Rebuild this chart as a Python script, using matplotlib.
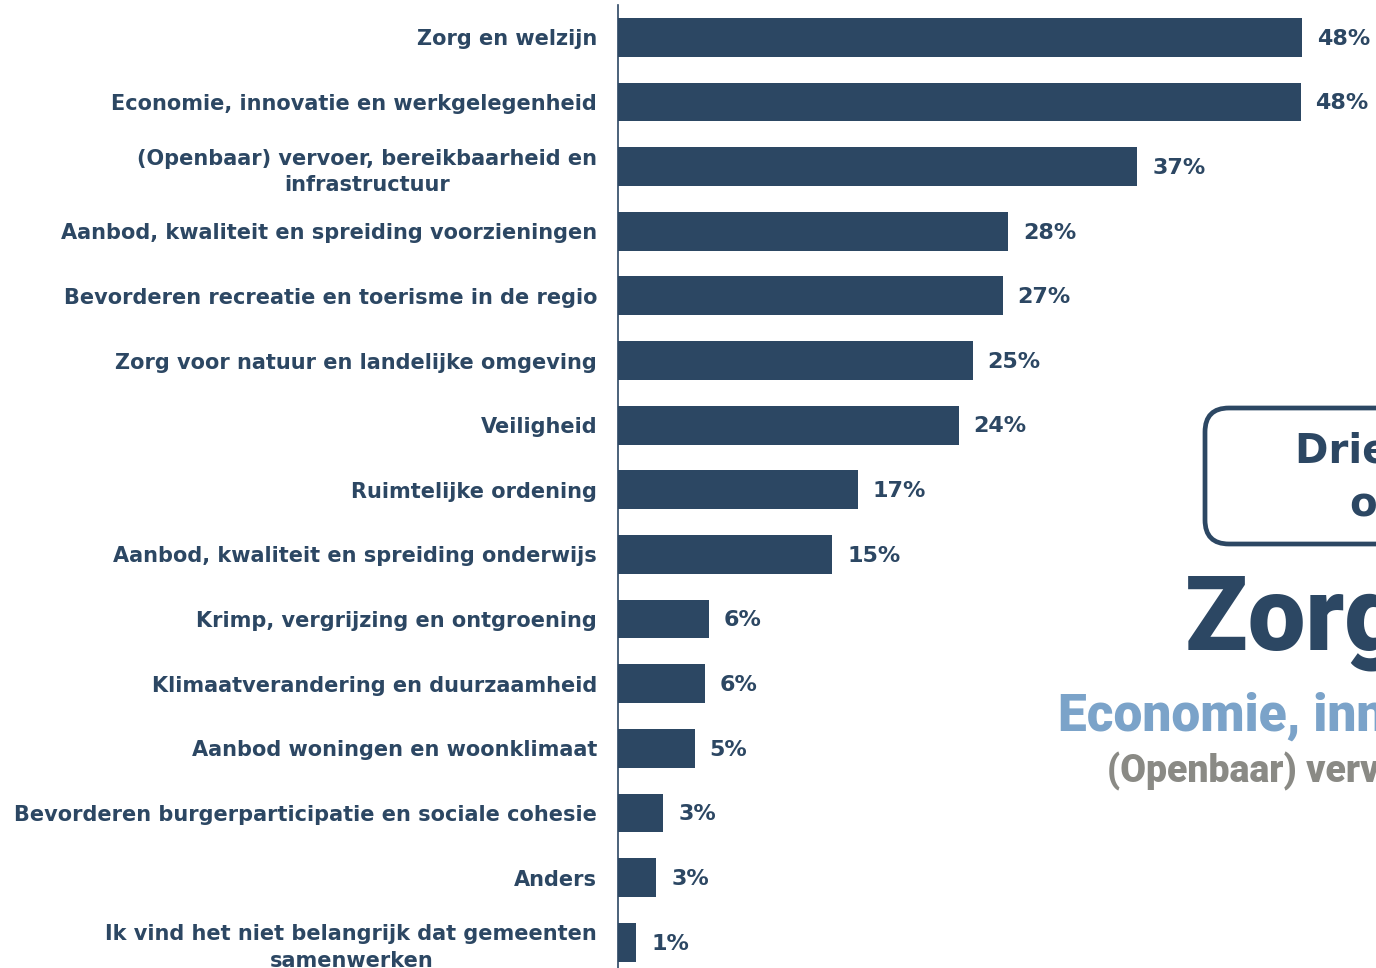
import matplotlib.pyplot as plt
from matplotlib.patches import FancyBboxPatch
from matplotlib.transforms import IdentityTransform

categories = [
    'Zorg en welzijn',
    'Economie, innovatie en werkgelegenheid',
    '(Openbaar) vervoer, bereikbaarheid en\ninfrastructuur',
    'Aanbod, kwaliteit en spreiding voorzieningen',
    'Bevorderen recreatie en toerisme in de regio',
    'Zorg voor natuur en landelijke omgeving',
    'Veiligheid',
    'Ruimtelijke ordening',
    'Aanbod, kwaliteit en spreiding onderwijs',
    'Krimp, vergrijzing en ontgroening',
    'Klimaatverandering en duurzaamheid',
    'Aanbod woningen en woonklimaat',
    'Bevorderen burgerparticipatie en sociale cohesie',
    'Anders',
    'Ik vind het niet belangrijk dat gemeenten\nsamenwerken',
]
values = [48.2, 48.1, 36.6, 27.5, 27.1, 25.0, 24.0, 16.9, 15.1,
          6.4, 6.1, 5.4, 3.2, 2.7, 1.3]

top_three = ['Zorg en welzijn',
             'Economie, innovatie en werkgelegenheid',
             '(Openbaar) vervoer, bereikbaarheid en infrastructuur']

navy = '#2C4763'
light_blue = '#7BA3C9'
grey = '#8A8A85'

W, H = 1376, 968
fig = plt.figure(figsize=(W / 100, H / 100), dpi=100)

# axes placed in pixels: spine at x=618, rows from y=5 down to ~974
left, right = 618, 618 + 53 * 14.19
top, bottom = 5, 5 + 15 * 64.64
ax = fig.add_axes([left / W, 1 - bottom / H, (right - left) / W,
                   (bottom - top) / H])

pos = range(len(values))
ax.barh(pos, values, height=0.6, color=navy)
ax.set_ylim(len(values) - 0.5, -0.5)
ax.set_xlim(0, 53)

for y, v in zip(pos, values):
    ax.text(v + 1.05, y + 0.02, f'{round(v):.0f}%', va='center', ha='left',
            fontsize=16, fontweight='bold', color=navy)

ax.set_yticks(list(pos))
ax.set_yticklabels(categories, fontsize=15, fontweight='bold',
                   color=navy, multialignment='center', linespacing=1.4)
ax.tick_params(axis='y', length=0, pad=15)
ax.set_xticks([])
for side in ['top', 'right', 'bottom']:
    ax.spines[side].set_visible(False)
ax.spines['left'].set_color(navy)
ax.spines['left'].set_linewidth(1.2)

# right-hand summary block (cut off at the figure edge, as in the source)
box = FancyBboxPatch((1205, H - 544), 400, 136,
                     boxstyle='round,pad=0,rounding_size=24',
                     transform=IdentityTransform(), facecolor='white',
                     edgecolor=navy, linewidth=3.4)
fig.add_artist(box)
fig.text(1295 / W, 1 - 452 / H, 'Drie belangrijkste', fontsize=29,
         fontweight='bold', color=navy, va='center', ha='left')
fig.text(1349 / W, 1 - 505 / H, 'onderwerpen', fontsize=29,
         fontweight='bold', color=navy, va='center', ha='left')

fig.text(1185 / W, 1 - 622 / H, top_three[0], fontsize=74,
         fontweight='heavy', family='Roboto', color=navy,
         va='center', ha='left')
fig.text(1058 / W, 1 - 717 / H, top_three[1], fontsize=37,
         fontweight='heavy', family='Roboto', color=light_blue,
         va='center', ha='left')
fig.text(1107 / W, 1 - 771 / H, top_three[2], fontsize=27,
         fontweight='heavy', family='Roboto', color=grey,
         va='center', ha='left')

fig.savefig('out.png', dpi=100)
